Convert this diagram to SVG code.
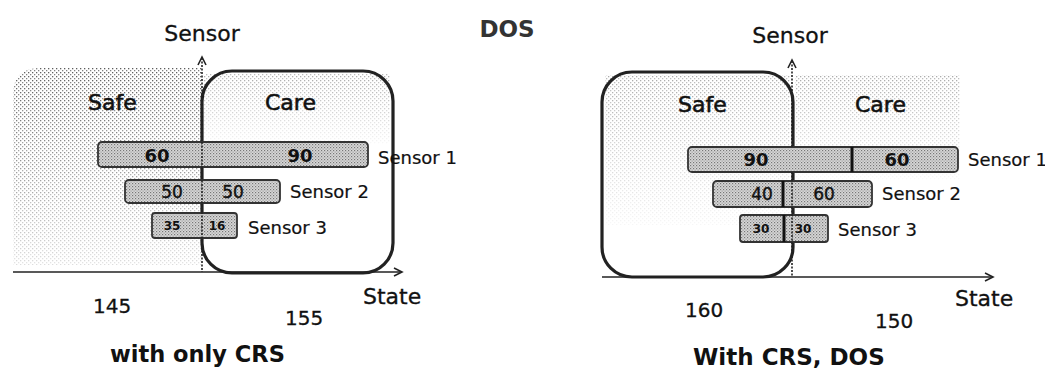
<svg xmlns="http://www.w3.org/2000/svg" width="1045" height="379" viewBox="0 0 1045 379">
<style>
text{font-family:"DejaVu Sans","Liberation Sans",sans-serif;fill:#111}
.ax{font-size:22px;stroke:#111;stroke-width:0.3}
.reg{font-size:22px;stroke:#111;stroke-width:0.6}
.lbl{font-size:18px;stroke:#111;stroke-width:0.2}
.num{font-weight:bold;text-anchor:middle;font-size:18px}
.num2{text-anchor:middle;font-size:17px;stroke:#111;stroke-width:0.4}
.num3{font-weight:bold;text-anchor:middle;font-size:12px}
.cap{font-size:22.5px;font-weight:bold}
.bar{fill:url(#barfill);stroke:#333;stroke-width:1.8}
.box{fill:none;stroke:#222;stroke-width:3.2}
.axis{stroke:#222;stroke-width:1.6;fill:none}
.vaxis{stroke:#222;stroke-width:1.6;stroke-dasharray:2 1.5;fill:none}
.div{stroke:#111;stroke-width:3}
</style>
<defs>
<pattern id="dots" width="4" height="4" patternUnits="userSpaceOnUse">
<rect x="0" y="0" width="1.3" height="1.3" fill="#555"/>
<rect x="2" y="2" width="1.3" height="1.3" fill="#777"/>
</pattern>
<pattern id="barfill" width="3" height="3" patternUnits="userSpaceOnUse">
<rect width="3" height="3" fill="#d8d8d8"/>
<rect x="0" y="0" width="1.2" height="1.2" fill="#777"/>
<rect x="1.5" y="1.5" width="1.2" height="1.2" fill="#999"/>
</pattern>
<linearGradient id="fadeV" x1="0" y1="0" x2="0" y2="1">
<stop offset="0" stop-color="#fff" stop-opacity="0.95"/>
<stop offset="0.5" stop-color="#fff" stop-opacity="0.6"/>
<stop offset="1" stop-color="#fff" stop-opacity="0.2"/>
</linearGradient>
<mask id="fadeMask" maskContentUnits="objectBoundingBox">
<rect width="1" height="1" fill="url(#fadeV)"/>
</mask>
<linearGradient id="fadeV2" x1="0" y1="0" x2="0" y2="1">
<stop offset="0" stop-color="#fff" stop-opacity="0.5"/>
<stop offset="1" stop-color="#fff" stop-opacity="0.05"/>
</linearGradient>
<mask id="fadeMask2" maskContentUnits="objectBoundingBox">
<rect width="1" height="1" fill="url(#fadeV2)"/>
</mask>
</defs>

<text x="507" y="37" text-anchor="middle" style="font-size:23px;font-weight:bold;fill:#333">DOS</text>

<!-- LEFT PANEL -->
<g id="left-safe-region">
<path d="M13,95 Q13,68 40,68 L202,68 L202,265 L13,265 Z" fill="url(#dots)" mask="url(#fadeMask)"/>
</g>
<g id="left-care-stipple">
<rect x="204" y="74" width="186" height="70" fill="url(#dots)" mask="url(#fadeMask2)"/>
</g>
<g id="left-care-box">
<rect class="box" x="202" y="71" width="191" height="202" rx="30"/>
</g>
<g id="left-labels">
<text class="ax" x="202" y="41" text-anchor="middle">Sensor</text>
<text class="reg" x="88" y="110">Safe</text>
<text class="reg" x="265" y="110">Care</text>
<text class="ax" x="363" y="304">State</text>
<text class="ax" x="93" y="313" style="font-size:20px">145</text>
<text class="ax" x="285" y="325" style="font-size:20px">155</text>
<text class="cap" x="110" y="362">with only CRS</text>
</g>
<g id="left-sensor1">
<rect class="bar" x="98" y="142" width="270" height="25" rx="4"/>
<text class="num" x="157" y="162">60</text>
<text class="num" x="300" y="162">90</text>
<text class="lbl" x="378" y="164">Sensor 1</text>
</g>
<g id="left-sensor2">
<rect class="bar" x="125" y="180" width="155" height="23" rx="4"/>
<text class="num2" x="172" y="198">50</text>
<text class="num2" x="233" y="198">50</text>
<text class="lbl" x="290" y="198">Sensor 2</text>
</g>
<g id="left-sensor3">
<rect class="bar" x="152" y="213" width="85" height="25" rx="3"/>
<text class="num3" x="172" y="230">35</text>
<text class="num3" x="217" y="230">16</text>
<text class="lbl" x="248" y="234">Sensor 3</text>
</g>

<!-- RIGHT PANEL -->
<g id="right-care-stipple">
<rect x="795" y="75" width="165" height="105" fill="url(#dots)" mask="url(#fadeMask2)"/>
</g>
<g id="right-safe-stipple">
<rect x="605" y="75" width="185" height="150" fill="url(#dots)" mask="url(#fadeMask2)"/>
</g>
<g id="right-safe-box">
<rect class="box" x="602" y="72" width="191" height="205" rx="30"/>
</g>
<g id="right-labels">
<text class="ax" x="790" y="43" text-anchor="middle">Sensor</text>
<text class="reg" x="678" y="112">Safe</text>
<text class="reg" x="855" y="112">Care</text>
<text class="ax" x="955" y="306">State</text>
<text class="ax" x="685" y="317" style="font-size:20px">160</text>
<text class="ax" x="875" y="328" style="font-size:20px">150</text>
<text class="cap" x="693" y="365" style="font-size:23px">With CRS, DOS</text>
</g>
<g id="right-sensor1">
<rect class="bar" x="688" y="147" width="270" height="25" rx="4"/>
<line class="div" x1="852" y1="147" x2="852" y2="172"/>
<text class="num" x="756" y="166">90</text>
<text class="num" x="897" y="166">60</text>
<text class="lbl" x="968" y="166">Sensor 1</text>
</g>
<g id="right-sensor2">
<rect class="bar" x="713" y="181" width="159" height="26" rx="4"/>
<line class="div" x1="783" y1="181" x2="783" y2="207"/>
<text class="num2" x="762" y="200">40</text>
<text class="num2" x="824" y="200">60</text>
<text class="lbl" x="882" y="200">Sensor 2</text>
</g>
<g id="right-sensor3">
<rect class="bar" x="740" y="215" width="88" height="27" rx="3"/>
<line class="div" x1="784" y1="215" x2="784" y2="242"/>
<text class="num3" x="761" y="233">30</text>
<text class="num3" x="803" y="233">30</text>
<text class="lbl" x="838" y="236">Sensor 3</text>
</g>

<g id="connectors">
<line class="vaxis" x1="202" y1="58" x2="202" y2="272"/>
<polyline class="axis" points="198,65 202,57 206,65"/>
<line class="axis" x1="13" y1="272" x2="402" y2="272"/>
<polyline class="axis" points="394,268 402,272 394,276"/>
<line class="vaxis" x1="792" y1="61" x2="792" y2="147"/>
<line class="vaxis" x1="792" y1="172" x2="792" y2="277"/>
<polyline class="axis" points="788,68 792,60 796,68"/>
<line class="axis" x1="602" y1="277" x2="993" y2="277"/>
<polyline class="axis" points="985,273 993,277 985,281"/>
</g>
</svg>
